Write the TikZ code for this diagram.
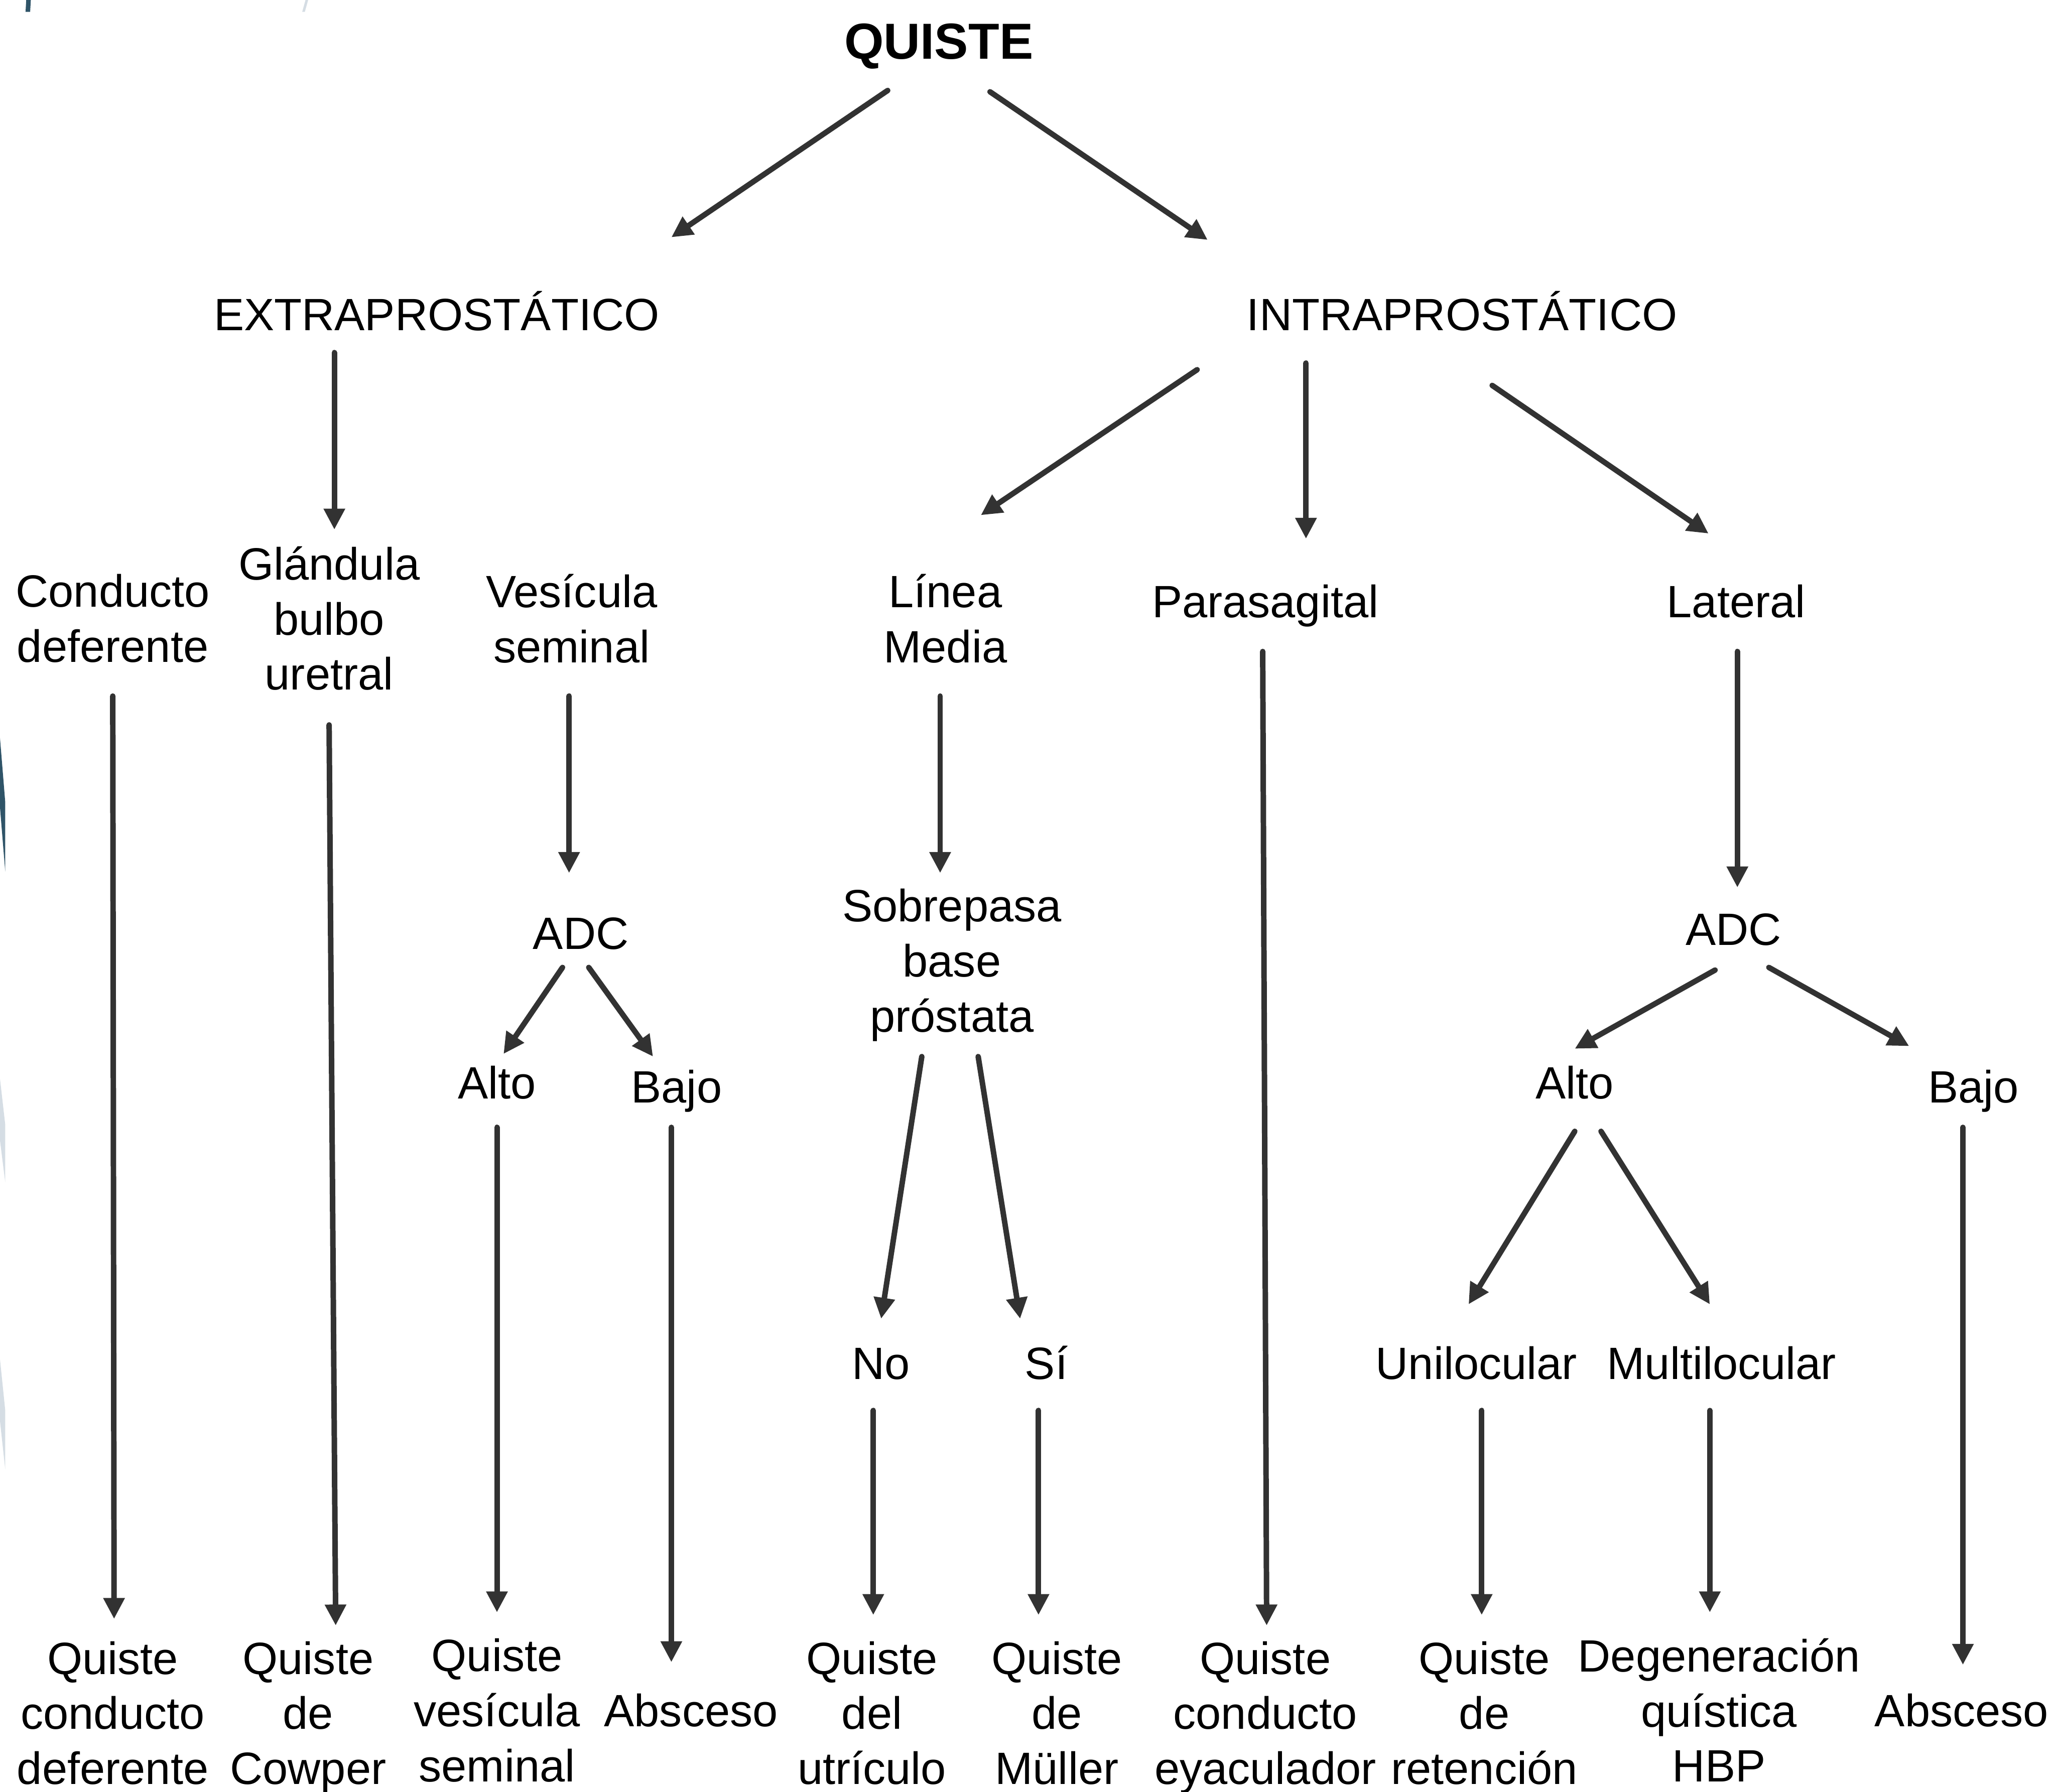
\documentclass[tikz,border=0pt]{standalone}
\usepackage{fontspec}
\setmainfont{Liberation Sans}
\usepackage{xcolor}
\usepackage{tikz}
\usetikzlibrary{arrows.meta}
\definecolor{arrowgray}{RGB}{50,50,50}
\definecolor{edgeblue}{RGB}{47,84,104}
\definecolor{edgegray}{RGB}{213,221,228}
\newcommand{\topstrut}{\rule{0pt}{9.4pt}}
\newcommand{\botstrut}{\rule[-2.5pt]{0pt}{2.5pt}}

\begin{document}
\begin{tikzpicture}[x=0.1mm,y=-0.1mm,
  lbl/.style={align=center,inner sep=0pt,
    font=\fontsize{9.83}{11.95}\selectfont,
    execute at begin node=\topstrut,execute at end node=\botstrut},
  arr/.style={-{Triangle[length=1.6mm,width=1.55mm]},line width=0.42mm,
    line cap=round,arrowgray}]
  \fill[white] (0,0) rectangle (1568,1367);
  \useasboundingbox (0,0) rectangle (1568,1367);

  \fill[edgeblue] (20,0) -- (23.5,0) -- (23,9) -- (19.5,9) -- cycle;
  \fill[edgegray] (233,0) -- (235,0) -- (232.5,9) -- (230.5,9) -- cycle;
  \fill[edgeblue] (0,563) -- (4,612) -- (4,665) -- (0,616) -- cycle;
  \fill[edgegray] (0,823) -- (4,858) -- (4,902) -- (0,870) -- cycle;
  \fill[edgegray] (0,1037) -- (4,1076) -- (4,1121) -- (0,1084) -- cycle;

  \node[lbl,font=\fontsize{11}{13}\selectfont\bfseries] (q) at (716,33) {QUISTE};
  \node[lbl] (ext) at (333,240) {EXTRAPROSTÁTICO};
  \node[lbl] (int) at (1115,240) {INTRAPROSTÁTICO};

  \node[lbl] (cond) at (86,476) {Conducto\\deferente};
  \node[lbl] (glan) at (251,476) {Glándula\\bulbo\\uretral};
  \node[lbl] (ves) at (436,476) {Vesícula\\seminal};
  \node[lbl] (lin) at (721,476) {Línea\\Media};
  \node[lbl] (par) at (965,459) {Parasagital};
  \node[lbl] (lat) at (1324,459) {Lateral};

  \node[lbl] (adcl) at (443,712) {ADC};
  \node[lbl] (sob) at (726,737) {Sobrepasa\\base\\próstata};
  \node[lbl] (adcr) at (1322,709) {ADC};
  \node[lbl] (altl) at (379,826) {Alto};
  \node[lbl] (bajl) at (516,829) {Bajo};
  \node[lbl] (altr) at (1201,826) {Alto};
  \node[lbl] (bajr) at (1505,829) {Bajo};
  \node[lbl] (no) at (672,1040) {No};
  \node[lbl] (si) at (798,1040) {Sí};
  \node[lbl] (uni) at (1126,1040) {Unilocular};
  \node[lbl] (mul) at (1313,1040) {Multilocular};

  \node[lbl] (qcd) at (86,1311) {Quiste\\conducto\\deferente};
  \node[lbl] (qcw) at (235,1311) {Quiste\\de\\Cowper};
  \node[lbl] (qvs) at (379,1309) {Quiste\\vesícula\\seminal};
  \node[lbl] (absl) at (527,1305) {Absceso};
  \node[lbl] (qut) at (665,1311) {Quiste\\del\\utrículo};
  \node[lbl] (qmu) at (806,1311) {Quiste\\de\\Müller};
  \node[lbl] (qey) at (965,1311) {Quiste\\conducto\\eyaculador};
  \node[lbl] (qre) at (1132,1311) {Quiste\\de\\retención};
  \node[lbl] (deg) at (1311,1309) {Degeneración\\quística\\HBP};
  \node[lbl] (absr) at (1496,1305) {Absceso};

  \draw[arr] ([shift={(-39,36)}]q.center) -- ([shift={(179,-59)}]ext.center);
  \draw[arr] ([shift={(39,37)}]q.center) -- ([shift={(-194,-57)}]int.center);
  \draw[arr] ([shift={(-78,29)}]ext.center) -- ([shift={(4,-72)}]glan.center);
  \draw[arr] ([shift={(-202,42)}]int.center) -- ([shift={(27,-83)}]lin.center);
  \draw[arr] ([shift={(-119,37)}]int.center) -- ([shift={(31,-48)}]par.center);
  \draw[arr] ([shift={(23,54)}]int.center) -- ([shift={(-21,-52)}]lat.center);

  \draw[arr] ([shift={(0,55)}]cond.center) -- ([shift={(1,-76)}]qcd.center);
  \draw[arr] ([shift={(0,77)}]glan.center) -- ([shift={(21,-71)}]qcw.center);
  \draw[arr] ([shift={(-2,55)}]ves.center) -- ([shift={(-9,-46)}]adcl.center);
  \draw[arr] ([shift={(-14,26)}]adcl.center) -- ([shift={(5,-22)}]altl.center);
  \draw[arr] ([shift={(6,26)}]adcl.center) -- ([shift={(-18,-23)}]bajl.center);
  \draw[arr] ([shift={(0,34)}]altl.center) -- ([shift={(0,-79)}]qvs.center);
  \draw[arr] ([shift={(-4,31)}]bajl.center) -- ([shift={(-15,-37)}]absl.center);

  \draw[arr] ([shift={(-4,55)}]lin.center) -- ([shift={(-9,-71)}]sob.center);
  \draw[arr] ([shift={(-23,69)}]sob.center) -- ([shift={(0,-34)}]no.center);
  \draw[arr] ([shift={(20,69)}]sob.center) -- ([shift={(-20,-34)}]si.center);
  \draw[arr] ([shift={(-6,36)}]no.center) -- ([shift={(1,-79)}]qut.center);
  \draw[arr] ([shift={(-6,36)}]si.center) -- ([shift={(-14,-79)}]qmu.center);
  \draw[arr] ([shift={(-2,38)}]par.center) -- ([shift={(1,-71)}]qey.center);

  \draw[arr] ([shift={(1,38)}]lat.center) -- ([shift={(3,-32)}]adcr.center);
  \draw[arr] ([shift={(-14,31)}]adcr.center) -- ([shift={(0,-26)}]altr.center);
  \draw[arr] ([shift={(27,29)}]adcr.center) -- ([shift={(-49,-31)}]bajr.center);
  \draw[arr] ([shift={(0,37)}]altr.center) -- ([shift={(-6,-45)}]uni.center);
  \draw[arr] ([shift={(20,37)}]altr.center) -- ([shift={(-9,-45)}]mul.center);
  \draw[arr] ([shift={(4,36)}]uni.center) -- ([shift={(-2,-79)}]qre.center);
  \draw[arr] ([shift={(-9,36)}]mul.center) -- ([shift={(-7,-79)}]deg.center);
  \draw[arr] ([shift={(-8,31)}]bajr.center) -- ([shift={(1,-35)}]absr.center);
\end{tikzpicture}
\end{document}
